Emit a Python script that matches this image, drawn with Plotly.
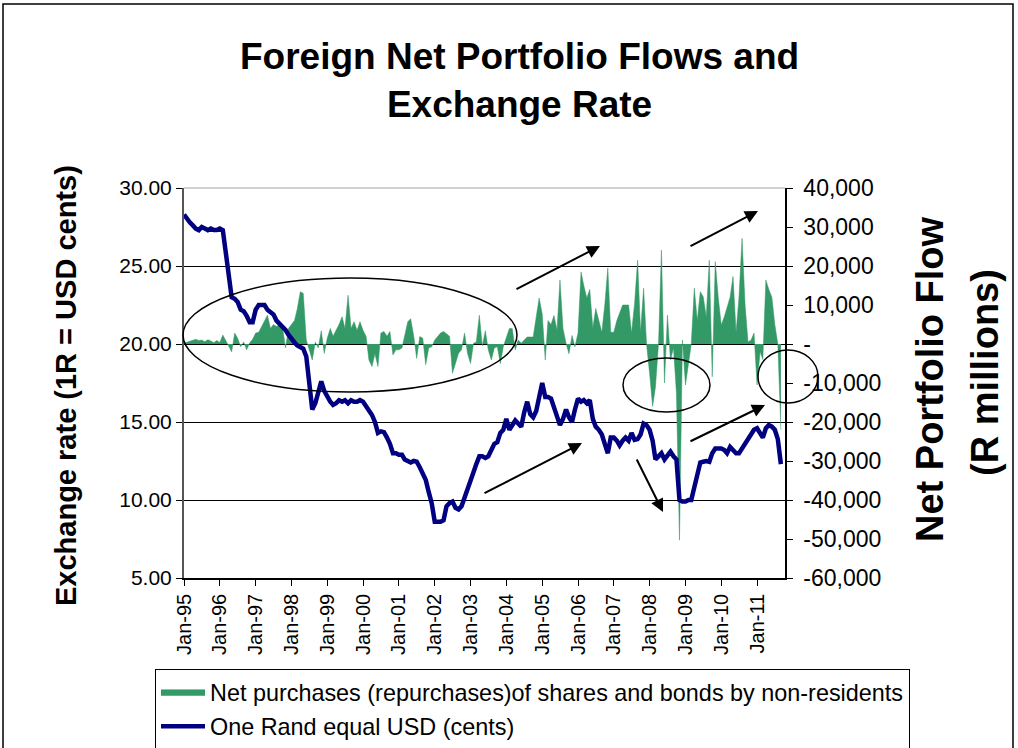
import pandas as pd
import plotly.graph_objects as go

# ---- data ----
start_month = "1995-01-01"
flows = {  # net purchases by non-residents, R millions
    1995: [200, 500, 800, 1000, 1200, 900, 1000, 600, 1100, 800, 300, 900],
    1996: [400, 2300, 800, -500, -2000, 2800, 1500, -700, 500, -1500, 300, 1200],
    1997: [2800, 3000, 4500, 6000, 7400, 4000, 5000, 4500, 5000, 4500, -1000, 4000],
    1998: [5000, 6000, 9000, 13400, 13000, 1000, -1500, -4100, 500, -1000, 3400, -2400],
    1999: [1500, 4000, 2000, 3500, 5000, 7000, 4000, 12500, 4000, 5700, 3500, 5700],
    2000: [3500, 2000, -4100, -5800, -2500, -5800, 2800, 3200, 2000, 3200, -2800, -1500],
    2001: [-1500, -1000, 2000, 5700, 6500, 2000, -3700, 1900, 1500, -5300, -1000, -700],
    2002: [1000, 2000, 2800, 3200, 2500, 2000, -7500, -5000, -2400, -1500, 2800, -2400],
    2003: [-5000, 200, 500, 7400, -500, 3400, -1500, -4100, -1000, -700, -5000, -700],
    2004: [1900, 4000, 4000, -1500, 1000, 200, 1000, 1800, 1800, 1800, 7000, 11800],
    2005: [7700, -4100, 6000, 5000, 7300, 3500, 16400, 4000, 200, -2500, 2200, -700],
    2006: [2800, 18500, 15000, 11800, 14000, 4100, 9100, 6000, 3000, 10000, 19500, 3000],
    2007: [3000, 6000, 8000, 10000, 10000, 10000, 2800, 10400, 21500, 3000, 14300, 0],
    2008: [-7500, -16000, -11000, 0, 24100, -10000, 7400, -4100, -1000, -12600, -50300, 1000],
    2009: [-10500, -5000, 0, 14300, 6000, 13400, 12100, 7000, 21500, -8400, 21100, 12000],
    2010: [4900, 7000, 9600, 12000, 17300, 3000, 12000, 27100, 10000, 500, 1000, 2800],
    2011: [-10500, -2000, -4000, 16400, 14000, 12000, 5000, 0, -22000],
}
rate = {  # one Rand in US cents
    1995: [28.3, 28.0, 27.8, 27.6, 27.4, 27.3, 27.5, 27.4, 27.3, 27.4, 27.3, 27.3],
    1996: [27.4, 27.3, 26.0, 24.5, 23.0, 22.9, 22.7, 22.2, 22.1, 21.8, 21.4, 21.4],
    1997: [22.2, 22.5, 22.5, 22.5, 22.2, 22.0, 21.9, 21.5, 21.3, 21.2, 20.9, 20.6],
    1998: [20.3, 20.1, 19.9, 19.8, 19.7, 19.2, 17.7, 15.8, 16.2, 17.0, 17.6, 17.0],
    1999: [16.6, 16.3, 16.1, 16.2, 16.4, 16.3, 16.4, 16.2, 16.4, 16.3, 16.3, 16.4],
    2000: [16.3, 16.0, 15.8, 15.45, 15.0, 14.3, 14.4, 14.35, 14.0, 13.6, 13.0, 13.0],
    2001: [12.9, 12.9, 12.6, 12.5, 12.4, 12.5, 12.45, 12.1, 11.6, 11.3, 10.5, 9.8],
    2002: [8.6, 8.6, 8.6, 8.7, 9.6, 9.8, 9.9, 9.5, 9.4, 9.6, 10.2, 10.8],
    2003: [11.3, 11.8, 12.3, 12.8, 12.8, 12.7, 12.8, 13.3, 13.6, 13.7, 14.3, 14.5],
    2004: [15.2, 14.5, 14.8, 15.1, 14.9, 14.7, 15.6, 16.3, 15.5, 15.3, 15.7, 16.5],
    2005: [17.5, 16.6, 16.6, 16.5, 16.0, 15.4, 14.8, 15.2, 15.8, 15.3, 15.0, 15.8],
    2006: [16.5, 16.3, 16.4, 16.2, 16.4, 15.2, 14.7, 14.5, 14.2, 13.6, 13.0, 14.0],
    2007: [14.0, 13.8, 13.5, 13.8, 14.0, 13.8, 14.3, 13.85, 13.9, 14.2, 14.9, 14.8],
    2008: [14.5, 13.8, 12.6, 12.8, 13.0, 12.6, 12.9, 13.1, 12.8, 12.6, 10.0, 9.9],
    2009: [9.9, 10.0, 10.0, 10.8, 11.75, 12.4, 12.45, 12.5, 12.45, 13.0, 13.3, 13.3],
    2010: [13.3, 13.2, 13.0, 13.4, 13.2, 13.0, 13.0, 13.3, 13.65, 14.0, 14.3, 14.5],
    2011: [14.6, 14.3, 14.0, 14.6, 14.8, 14.7, 14.5, 13.9, 12.3],
}
flow_ticks = [40000, 30000, 20000, 10000, 0, -10000, -20000, -30000, -40000, -50000, -60000]
flow_ticktext = ["40,000", "30,000", "20,000", "10,000", "-", "-10,000", "-20,000",
                 "-30,000", "-40,000", "-50,000", "-60,000"]
name_flow = "Net purchases (repurchases)of shares and bonds by non-residents"
name_rate = "One Rand equal USD (cents)"
title_text = "Foreign Net Portfolio Flows and<br>Exchange Rate"
left_title = "Exchange rate (1R = USD cents)"
right_title = ["Net Portfolio Flow", "(R millions)"]

flow_vals = [v for y in sorted(flows) for v in flows[y]]
rate_vals = [v for y in sorted(rate) for v in rate[y]]
dates = pd.date_range(start_month, periods=len(rate_vals), freq="MS")

FONT = "Liberation Sans, Arial, sans-serif"
W, H = 1018, 748
L, R, T, B = 184, 785, 188, 578


def px(x):
    return (x - L) / (R - L)


def py(y):
    return (B - y) / (B - T)


fig = go.Figure()
fig.add_trace(go.Scatter(
    x=dates, y=flow_vals, name=name_flow, yaxis="y", mode="lines", legendgroup="a",
    fill="tozeroy", fillcolor="#339966", line=dict(color="#339966", width=0.5),
))
fig.add_trace(go.Scatter(
    x=dates, y=rate_vals, name=name_rate, yaxis="y2", mode="lines", legendgroup="b",
    line=dict(color="#000080", width=4.5),
))

shapes = []
# annotation ellipses
for (x0, x1, y0, y1) in [(183, 517, 278, 392), (623, 710, 358, 412), (758, 818, 350, 403)]:
    shapes.append(dict(type="circle", xref="paper", yref="paper",
                       x0=px(x0), x1=px(x1), y0=py(y1), y1=py(y0),
                       line=dict(color="black", width=1.5), layer="above"))
# top border of plot area
shapes.append(dict(type="line", xref="paper", yref="paper", x0=0, x1=1, y0=1, y1=1,
                   line=dict(color="#c0c0c0", width=1.5)))
# outer chart border
shapes.append(dict(type="rect", xref="paper", yref="paper",
                   x0=px(3), x1=px(1013), y0=py(770), y1=py(4),
                   line=dict(color="black", width=1.5)))

annotations = []
for (tx, ty, hx, hy) in [(515, 290, 600, 246), (689, 247, 758, 211), (483, 494, 582, 443),
                         (636, 458, 663, 512), (689, 442, 765, 405)]:
    annotations.append(dict(xref="paper", yref="paper", x=px(hx), y=py(hy),
                            axref="pixel", ayref="pixel", ax=tx - hx, ay=ty - hy,
                            text="", showarrow=True, arrowhead=2, arrowsize=1.3,
                            arrowwidth=2, arrowcolor="black"))
annotations.append(dict(xref="paper", yref="paper", x=px(519), y=py(80), text=title_text,
                        showarrow=False, xanchor="center", yanchor="middle",
                        font=dict(family=FONT, size=37, color="black", weight="bold")))
annotations.append(dict(xref="paper", yref="paper", x=px(66), y=py(386), text=left_title,
                        textangle=-90, showarrow=False, xanchor="center", yanchor="middle",
                        font=dict(family=FONT, size=29, color="black", weight="bold")))
annotations.append(dict(xref="paper", yref="paper", x=px(930), y=py(379), text=right_title[0],
                        textangle=-90, showarrow=False, xanchor="center", yanchor="middle",
                        font=dict(family=FONT, size=38, color="black", weight="bold")))
annotations.append(dict(xref="paper", yref="paper", x=px(985), y=py(373), text=right_title[1],
                        textangle=-90, showarrow=False, xanchor="center", yanchor="middle",
                        font=dict(family=FONT, size=38, color="black", weight="bold")))

fig.update_layout(
    width=W, height=H, margin=dict(l=L, r=W - R, t=T, b=H - B, autoexpand=False),
    paper_bgcolor="white", plot_bgcolor="white",
    font=dict(family=FONT, color="black"),
    xaxis=dict(type="date", range=["1995-01-01", "2011-10-13"], dtick="M12", tick0="1995-01-01",
               tickformat="%b-%y", tickangle=-90, ticks="outside", ticklen=6,
               tickcolor="black", showline=True, linecolor="black", linewidth=1.5,
               showgrid=False, zeroline=False, tickfont=dict(size=20)),
    yaxis=dict(side="right", range=[-60000, 40000], tickvals=flow_ticks, ticktext=flow_ticktext,
               ticks="outside", ticklen=6, tickcolor="black", showline=True,
               linecolor="black", linewidth=1.5, showgrid=False, zeroline=False,
               tickfont=dict(size=23), ticklabelstandoff=6),
    yaxis2=dict(overlaying="y", side="left", range=[5, 30], dtick=5, tickformat=".2f",
                ticks="outside", ticklen=6, tickcolor="black", showline=True,
                linecolor="#555555", linewidth=2, showgrid=True, gridcolor="black",
                gridwidth=1, zeroline=False, tickfont=dict(size=21)),
    legend=dict(x=px(155), y=py(669), xanchor="left", yanchor="top",
                bgcolor="white", bordercolor="black", borderwidth=1,
                font=dict(family=FONT, size=23.4, color="black"), itemwidth=44,
                traceorder="grouped", tracegroupgap=1),
    shapes=shapes, annotations=annotations,
)

fig.write_html("out.html", config={"displayModeBar": False},
               post_script="document.body.style.margin='0px';")
